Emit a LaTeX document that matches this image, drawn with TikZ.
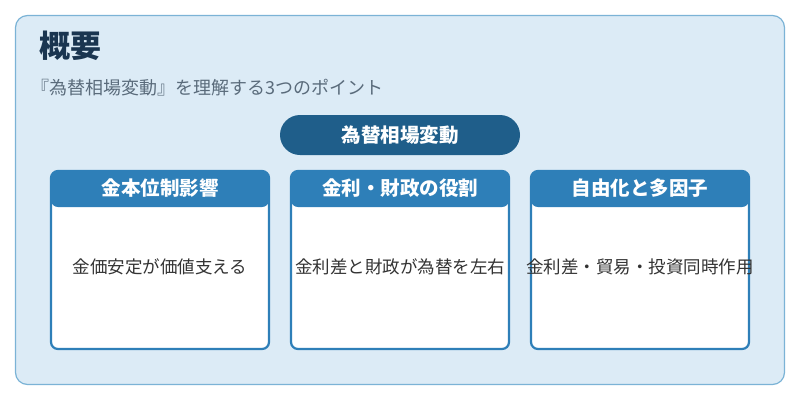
\documentclass[tikz,border=0pt]{standalone}
\usepackage{fontspec}
\setmainfont{Noto Sans CJK JP}
\usetikzlibrary{positioning,calc}
\definecolor{bgblue}{HTML}{DCEBF6}
\definecolor{edgeblue}{HTML}{7BB3D6}
\definecolor{cardblue}{HTML}{2E7FB8}
\definecolor{pillblue}{HTML}{1F5E8A}
\definecolor{titlec}{HTML}{1A3550}
\definecolor{subc}{HTML}{5A6B7B}
\begin{document}
\begin{tikzpicture}[x=1pt,y=1pt,
    card/.style={draw=cardblue,line width=2.2pt,fill=white,rounded corners=7pt,
      minimum width=218pt,minimum height=178pt,
      path picture={\fill[cardblue] (path picture bounding box.north west) rectangle
        ($(path picture bounding box.north east)+(0,-36)$);}},
    head/.style={text=white,font=\fontsize{19.5}{22}\selectfont\bfseries},
    body/.style={text=black!80,font=\fontsize{17.5}{20}\selectfont}]
    \useasboundingbox (0,0) rectangle (800,-400);
    \node[draw=edgeblue,line width=1.2pt,fill=bgblue,rounded corners=12pt,
      minimum width=769pt,minimum height=369pt] (frame) at (400,-200) {};
    \node[anchor=west,text=titlec,font=\fontsize{31}{34}\selectfont\bfseries] (title) at (36,-46) {概要};
    \node[anchor=west,text=subc,font=\fontsize{18}{20}\selectfont] (sub) at (28,-88) {『為替相場変動』を理解する3つのポイント};
    \node[fill=pillblue,rounded corners=20pt,minimum width=240pt,minimum height=40pt,
      head] (main) at (400,-135) {為替相場変動};
    % cards
    \node[card] (c1) at (160,-260) {};
    \node[card] (c2) at (400,-260) {};
    \node[card] (c3) at (640,-260) {};
    \foreach \c/\h/\b in {c1/金本位制影響/金価安定が価値支える,
                          c2/金利・財政の役割/金利差と財政が為替を左右,
                          c3/自由化と多因子/金利差・貿易・投資同時作用}{
      \node[head] (\c h) at ($(\c.north)+(0,-18)$) {\h};
      \node[body] (\c b) at ($(\c.center)+(0,-7)$) {\b};
    }
\end{tikzpicture}
\end{document}
